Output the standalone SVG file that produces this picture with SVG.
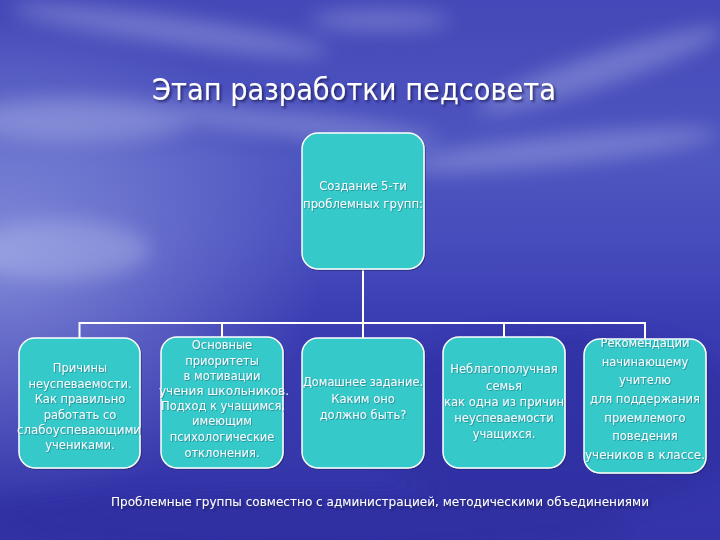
<svg xmlns="http://www.w3.org/2000/svg" width="720" height="540" viewBox="0 0 720 540">
  <defs>
    <linearGradient id="bg" x1="0" y1="0" x2="0" y2="1">
      <stop offset="0" stop-color="#4448b8"/>
      <stop offset="0.3" stop-color="#4e56c0"/>
      <stop offset="0.45" stop-color="#464cbc"/>
      <stop offset="0.6" stop-color="#3a3cb2"/>
      <stop offset="1" stop-color="#3434a8"/>
    </linearGradient>
    <radialGradient id="glowL" cx="0" cy="0.48" r="0.45">
      <stop offset="0" stop-color="#a8b4ec" stop-opacity="0.6"/>
      <stop offset="1" stop-color="#a8b4ec" stop-opacity="0"/>
    </radialGradient>
    <filter id="blur" x="-50%" y="-50%" width="200%" height="200%">
      <feGaussianBlur stdDeviation="10"/>
    </filter>
    <filter id="shadow" x="-20%" y="-20%" width="140%" height="140%">
      <feDropShadow dx="1" dy="1" stdDeviation="0.6" flood-color="#1a2060" flood-opacity="0.6"/>
    </filter>
    <filter id="tshadow" x="-5%" y="-20%" width="110%" height="140%">
      <feDropShadow dx="0.8" dy="0.8" stdDeviation="0.3" flood-color="#1b6f78" flood-opacity="0.7"/>
    </filter>
    <filter id="hshadow" x="-5%" y="-20%" width="110%" height="140%">
      <feDropShadow dx="2" dy="2" stdDeviation="0.8" flood-color="#1a1a50" flood-opacity="0.7"/>
    </filter>
  </defs>
  <style>
    .box { fill: #35c9c9; stroke: #ffffff; stroke-width: 1.5; }
    .lbl { font-family: "DejaVu Sans", "Liberation Sans", sans-serif; font-size: 11.5px; fill: #f4fbff; text-anchor: middle; }
    .conn { stroke: #ffffff; stroke-width: 2; fill: none; }
  </style>

  <!-- background scene -->
  <rect x="0" y="0" width="720" height="540" fill="url(#bg)"/>
  <rect x="0" y="0" width="720" height="540" fill="url(#glowL)"/>
  <g filter="url(#blur)" fill="#c0c8f0" opacity="0.35">
    <ellipse cx="170" cy="30" rx="160" ry="14" transform="rotate(8 170 30)"/>
    <ellipse cx="380" cy="20" rx="70" ry="10"/>
    <ellipse cx="600" cy="70" rx="130" ry="16" transform="rotate(-18 600 70)"/>
    <ellipse cx="80" cy="120" rx="110" ry="22"/>
    <ellipse cx="300" cy="125" rx="140" ry="12" transform="rotate(6 300 125)"/>
    <ellipse cx="560" cy="150" rx="160" ry="14" transform="rotate(-6 560 150)"/>
    <ellipse cx="60" cy="250" rx="90" ry="30"/>
  </g>
  <g filter="url(#blur)" fill="#2c2c9c" opacity="0.45">
    <ellipse cx="560" cy="420" rx="200" ry="90"/>
    <ellipse cx="300" cy="520" rx="320" ry="30"/>
  </g>

  <!-- title -->
  <text x="152" y="100" font-family="DejaVu Sans, Liberation Sans, sans-serif" font-size="31" fill="#ffffff" textLength="404" lengthAdjust="spacingAndGlyphs" filter="url(#hshadow)">Этап разработки педсовета</text>

  <!-- connectors -->
  <g id="connectors">
    <path class="conn" d="M363 269 V323"/>
    <path class="conn" d="M79.5 339 V323 H645 V339"/>
    <path class="conn" d="M222 323 V337"/>
    <path class="conn" d="M363 323 V338"/>
    <path class="conn" d="M504 323 V337"/>
  </g>

  <g id="node-top">
    <rect class="box" x="302" y="133" width="122" height="136" rx="16" filter="url(#shadow)"/>
    <g filter="url(#tshadow)">
      <text x="363" y="190" class="lbl">Создание 5-ти</text>
      <text x="363" y="208" class="lbl" textLength="120" lengthAdjust="spacingAndGlyphs">проблемных групп:</text>
    </g>
  </g>

  <g id="node-1">
    <rect class="box" x="19" y="338" width="121" height="130" rx="16" filter="url(#shadow)"/>
    <g filter="url(#tshadow)">
      <text x="80" y="372" class="lbl">Причины</text>
      <text x="80" y="388" class="lbl">неуспеваемости.</text>
      <text x="80" y="403" class="lbl">Как правильно</text>
      <text x="80" y="419" class="lbl">работать со</text>
      <text x="79" y="434" class="lbl" textLength="124" lengthAdjust="spacingAndGlyphs">слабоуспевающими</text>
      <text x="80" y="449" class="lbl">учениками.</text>
    </g>
  </g>

  <g id="node-2">
    <rect class="box" x="161" y="337" width="122" height="131" rx="16" filter="url(#shadow)"/>
    <g filter="url(#tshadow)">
      <text x="222" y="349" class="lbl">Основные</text>
      <text x="222" y="365" class="lbl">приоритеты</text>
      <text x="222" y="380" class="lbl">в мотивации</text>
      <text x="224" y="395" class="lbl" textLength="130" lengthAdjust="spacingAndGlyphs">учения школьников.</text>
      <text x="223" y="410" class="lbl" textLength="124" lengthAdjust="spacingAndGlyphs">Подход к учащимся,</text>
      <text x="222" y="425" class="lbl">имеющим</text>
      <text x="222" y="441" class="lbl">психологические</text>
      <text x="222" y="457" class="lbl">отклонения.</text>
    </g>
  </g>

  <g id="node-3">
    <rect class="box" x="302" y="338" width="122" height="130" rx="16" filter="url(#shadow)"/>
    <g filter="url(#tshadow)">
      <text x="363" y="386" class="lbl" textLength="120" lengthAdjust="spacingAndGlyphs">Домашнее задание.</text>
      <text x="363" y="403" class="lbl">Каким оно</text>
      <text x="363" y="419" class="lbl">должно быть?</text>
    </g>
  </g>

  <g id="node-4">
    <rect class="box" x="443" y="337" width="122" height="131" rx="16" filter="url(#shadow)"/>
    <g filter="url(#tshadow)">
      <text x="504" y="373" class="lbl">Неблагополучная</text>
      <text x="504" y="390" class="lbl">семья</text>
      <text x="504" y="406" class="lbl" textLength="120" lengthAdjust="spacingAndGlyphs">как одна из причин</text>
      <text x="504" y="422" class="lbl">неуспеваемости</text>
      <text x="504" y="438" class="lbl">учащихся.</text>
    </g>
  </g>

  <g id="node-5">
    <rect class="box" x="584" y="339" width="122" height="134" rx="16" filter="url(#shadow)"/>
    <g filter="url(#tshadow)">
      <text x="645" y="347" class="lbl">Рекомендации</text>
      <text x="645" y="366" class="lbl">начинающему</text>
      <text x="645" y="384" class="lbl">учителю</text>
      <text x="645" y="403" class="lbl">для поддержания</text>
      <text x="645" y="422" class="lbl">приемлемого</text>
      <text x="645" y="440" class="lbl">поведения</text>
      <text x="645" y="459" class="lbl" textLength="120" lengthAdjust="spacingAndGlyphs">учеников в классе.</text>
    </g>
  </g>

  <!-- footer -->
  <text x="111" y="506" font-family="DejaVu Sans, Liberation Sans, sans-serif" font-size="13" fill="#ffffff" textLength="538" lengthAdjust="spacingAndGlyphs" filter="url(#hshadow)">Проблемные группы совместно с администрацией, методическими объединениями</text>
</svg>
